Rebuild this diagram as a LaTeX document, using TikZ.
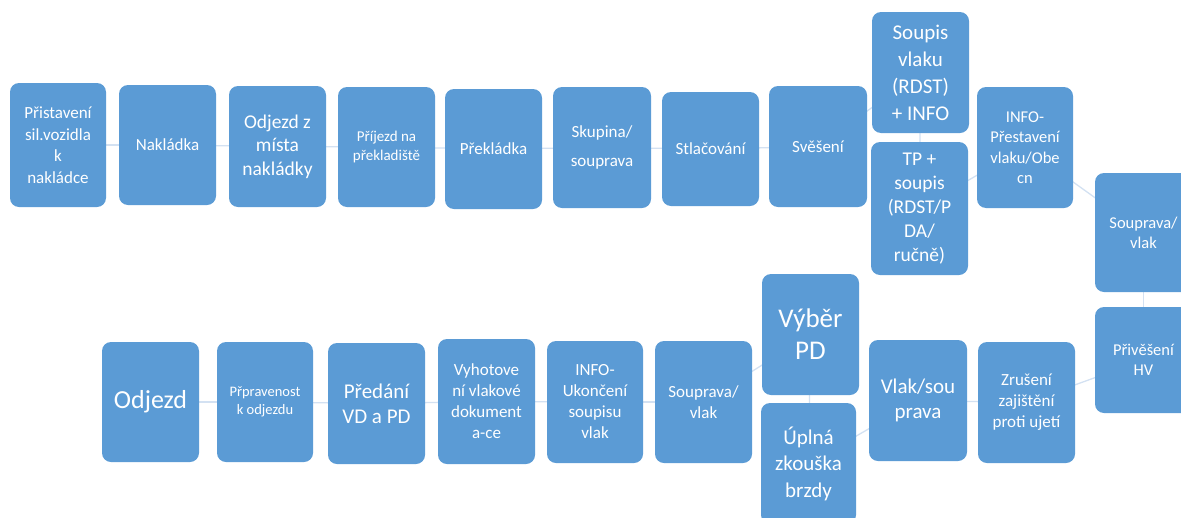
\documentclass[tikz,border=0pt]{standalone}
\usepackage{fontspec}
\setmainfont{Carlito}
\definecolor{boxblue}{HTML}{5B9BD5}
\definecolor{linkblue}{HTML}{D3E1F2}
\pgfdeclarelayer{bg}
\pgfsetlayers{bg,main}
\tikzset{
  boxst/.style={fill=boxblue, draw=none, rounded corners=9pt, text=white, align=center, inner sep=0pt},
  link/.style={draw=linkblue, line width=1.3pt}
}
\newcommand\mybox[8]{\node[boxst, minimum width={(#4-#2)*1pt}, minimum height={(#5-#3)*1pt}, font={\fontsize{#6}{#7}\selectfont}] (#1) at ({(#2+#4)/2},{(#3+#5)/2}) {#8};}
\begin{document}
\begin{tikzpicture}[x=1pt,y=-1pt]
\useasboundingbox (0,0) rectangle (1181,517);
\clip (0,0) rectangle (1181,517);
% top row
\mybox{p1}{10}{83}{106}{207}{17}{21.5}{Přistavení\\sil.vozidla\\k\\nakládce}
\mybox{p2}{119}{85}{216}{205}{17}{21}{Nakládka}
\mybox{p3}{229}{86}{326}{207}{19.5}{23.5}{Odjezd z\\místa\\nakládky}
\mybox{p4}{338}{87}{435}{207}{15}{19}{Příjezd na\\překladiště}
\mybox{p5}{445}{89}{542}{209}{17}{21}{Překládka}
\mybox{p6}{553}{87}{651}{208}{17}{29}{Skupina/\\souprava}
\mybox{p7}{662}{92}{759}{206}{17}{21}{Stlačování}
\mybox{p8}{769}{86}{867}{207}{17}{21}{Svěšení}
\mybox{p9}{872}{12}{969}{133}{21}{27}{Soupis\\vlaku\\(RDST)\\+ INFO}
\mybox{p10}{871}{142}{968}{275}{19.5}{24}{TP +\\soupis\\(RDST/P\\DA/\\ručně)}
\mybox{p11}{977}{87}{1073}{208}{16.5}{20.5}{INFO-\\Přestavení\\vlaku/Obe\\cn}
\mybox{p12}{1095}{173}{1192}{292}{16.5}{20}{Souprava/\\vlak}
\mybox{p13}{1095}{307}{1192}{413}{16.5}{20}{Přivěšení\\HV}
% bottom row
\mybox{q1}{102}{342}{199}{462}{26}{30}{Odjezd}
\mybox{q2}{217}{342}{313}{462}{14.5}{18}{Přpravenost\\k odjezdu}
\mybox{q3}{328}{343}{425}{464}{21}{25}{Předání\\VD a PD}
\mybox{q4}{438}{339}{535}{464}{17}{21}{Vyhotove\\ní vlakové\\dokument\\a-ce}
\mybox{q5}{547}{341}{643}{463}{17}{21}{INFO-\\Ukončení\\soupisu\\vlak}
\mybox{q6}{655}{341}{752}{463}{17}{20.5}{Souprava/\\vlak}
\mybox{q7}{762}{274}{859}{395}{27}{32}{Výběr\\PD}
\mybox{q8}{761}{403}{856}{524}{21}{26.5}{Úplná\\zkouška\\brzdy}
\mybox{q9}{869}{340}{967}{461}{21}{25}{Vlak/sou\\prava}
\mybox{q10}{978}{342}{1075}{463}{17}{21}{Zrušení\\zajištění\\proti ujetí}
\begin{pgfonlayer}{bg}
\draw[link] (p1.center) -- (p2.center);
\draw[link] (p2.center) -- (p3.center);
\draw[link] (p3.center) -- (p4.center);
\draw[link] (p4.center) -- (p5.center);
\draw[link] (p5.center) -- (p6.center);
\draw[link] (p6.center) -- (p7.center);
\draw[link] (p7.center) -- (p8.center);
\draw[link] (p8.center) -- (p9.center);
\draw[link] (p9.center) -- (p10.center);
\draw[link] (p10.center) -- (p11.center);
\draw[link] (p11.center) -- (p12.center);
\draw[link] (p12.center) -- (p13.center);
\draw[link] (p13.center) -- (q10.center);
\draw[link] (q10.center) -- (q9.center);
\draw[link] (q9.center) -- (q8.center);
\draw[link] (q8.center) -- (q7.center);
\draw[link] (q7.center) -- (q6.center);
\draw[link] (q6.center) -- (q5.center);
\draw[link] (q5.center) -- (q4.center);
\draw[link] (q4.center) -- (q3.center);
\draw[link] (q3.center) -- (q2.center);
\draw[link] (q2.center) -- (q1.center);
\end{pgfonlayer}
\end{tikzpicture}
\end{document}
